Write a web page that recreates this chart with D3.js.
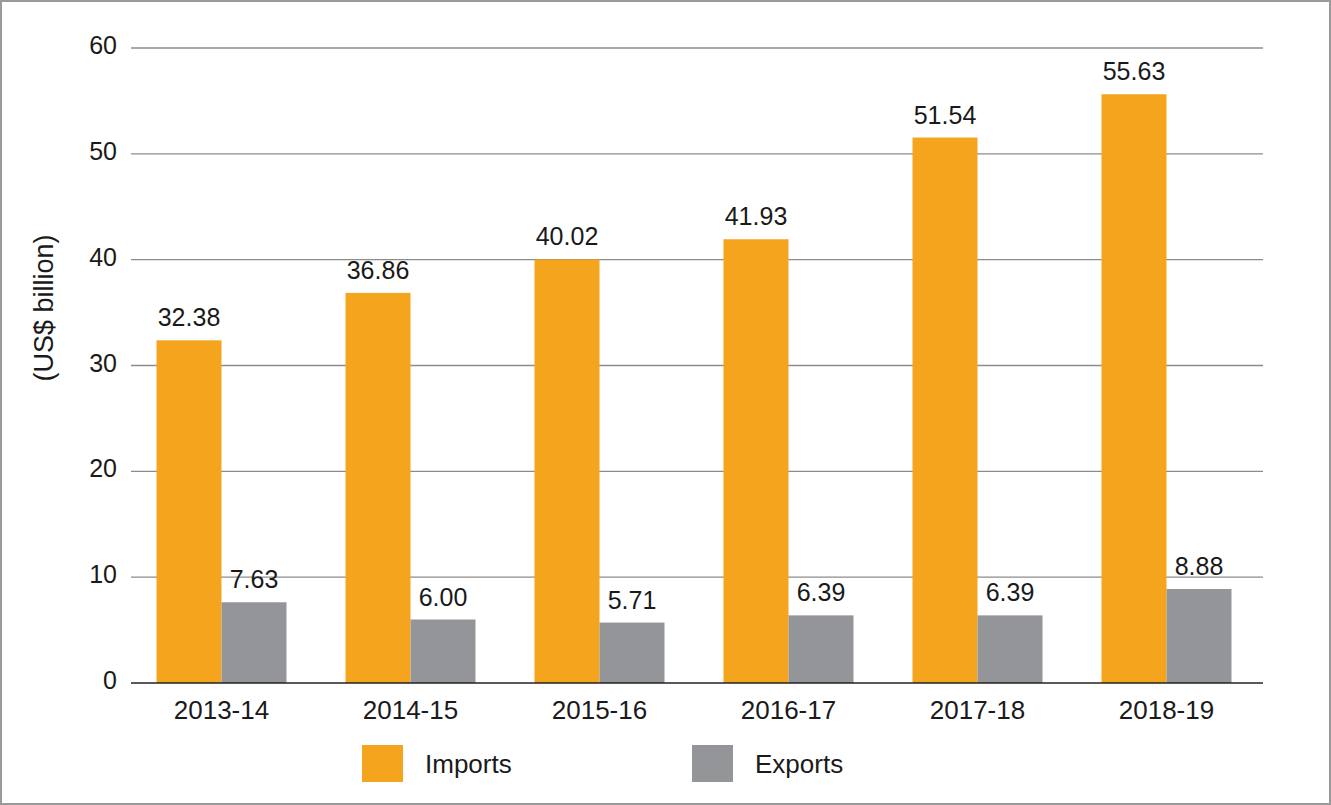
<!DOCTYPE html>
<html>
<head>
<meta charset="utf-8">
<script src="https://cdn.jsdelivr.net/npm/d3@7"></script>
<style>
  body { margin: 0; background: #fff; }
  #chart svg { display: block; }
</style>
</head>
<body>
<div id="chart"></div>
<script>
// data
var years = ["2013-14", "2014-15", "2015-16", "2016-17", "2017-18", "2018-19"]
var imports = [32.38, 36.86, 40.02, 41.93, 51.54, 55.63]
var exports = [7.63, 6.00, 5.71, 6.39, 6.39, 8.88]
var seriesNames = ["Imports", "Exports"]
var yTicks = [0, 10, 20, 30, 40, 50, 60]

var colors = { Imports: "#f5a51d", Exports: "#939598" }
var font = "'Liberation Sans', Arial, sans-serif"
var ink = "#1a1a1a"

var W = 1331, H = 805
var svg = d3.select("#chart").append("svg")
  .attr("width", W)
  .attr("height", H)

// frame
svg.append("rect")
  .attr("x", 1).attr("y", 1)
  .attr("width", W - 2).attr("height", H - 2)
  .style("fill", "#fff")
  .style("stroke", "#9a9a9a")
  .style("stroke-width", 2)

var plot = { left: 131, right: 1263, top: 48, bottom: 683 }

var y = d3.scaleLinear().domain([0, 60]).range([plot.bottom, plot.top])

var x0 = d3.scaleBand().domain(years).range([127, 1261]).padding(0)
var barW = 65
var x1 = d3.scaleBand().domain(seriesNames)
  .range([x0.bandwidth() / 2 - barW, x0.bandwidth() / 2 + barW])

// gridlines
svg.append("g").selectAll("line")
  .data(yTicks.filter(d => d > 0))
  .enter().append("line")
  .attr("x1", plot.left).attr("x2", plot.right)
  .attr("y1", d => y(d)).attr("y2", d => y(d))
  .style("stroke", "#8c8c8c")
  .style("stroke-width", 1.3)

// y tick labels
svg.append("g").selectAll("text")
  .data(yTicks)
  .enter().append("text")
  .attr("x", 117)
  .attr("y", d => y(d) + 6)
  .attr("text-anchor", "end")
  .style("font-family", font)
  .style("font-size", "25px")
  .style("fill", ink)
  .text(d => d)

// y axis title
svg.append("text")
  .attr("transform", "translate(53,308) rotate(-90)")
  .attr("text-anchor", "middle")
  .style("font-family", font)
  .style("font-size", "27px")
  .style("fill", ink)
  .text("(US$ billion)")

// bars
var rows = years.map((yr, i) => ({ year: yr, Imports: imports[i], Exports: exports[i] }))

var groups = svg.append("g").selectAll("g")
  .data(rows)
  .enter().append("g")
  .attr("transform", d => "translate(" + x0(d.year) + ",0)")

groups.selectAll("rect")
  .data(d => seriesNames.map(s => ({ key: s, value: d[s] })))
  .enter().append("rect")
  .attr("x", d => x1(d.key))
  .attr("width", x1.bandwidth())
  .attr("y", d => y(d.value))
  .attr("height", d => y(0) - y(d.value))
  .style("fill", d => colors[d.key])

groups.selectAll("text.val")
  .data(d => seriesNames.map(s => ({ key: s, value: d[s] })))
  .enter().append("text")
  .attr("class", "val")
  .attr("x", d => x1(d.key) + x1.bandwidth() / 2)
  .attr("y", d => y(d.value) - 14)
  .attr("text-anchor", "middle")
  .style("font-family", font)
  .style("font-size", "25px")
  .style("fill", ink)
  .text(d => d.value.toFixed(2))

// baseline
svg.append("line")
  .attr("x1", plot.left).attr("x2", plot.right)
  .attr("y1", y(0)).attr("y2", y(0))
  .style("stroke", "#222")
  .style("stroke-width", 1.5)

// x labels
svg.append("g").selectAll("text")
  .data(years)
  .enter().append("text")
  .attr("x", d => x0(d) + x0.bandwidth() / 2)
  .attr("y", 719)
  .attr("text-anchor", "middle")
  .style("font-family", font)
  .style("font-size", "26px")
  .style("fill", ink)
  .text(d => d)

// legend
var legendX = [362, 692]
var legend = svg.append("g").selectAll("g")
  .data(seriesNames)
  .enter().append("g")
  .attr("transform", (d, i) => "translate(" + legendX[i] + ",745)")

legend.append("rect")
  .attr("width", 41).attr("height", 37)
  .style("fill", d => colors[d])

legend.append("text")
  .attr("x", 63).attr("y", 28)
  .style("font-family", font)
  .style("font-size", "26px")
  .style("fill", ink)
  .text(d => d)
</script>
</body>
</html>
